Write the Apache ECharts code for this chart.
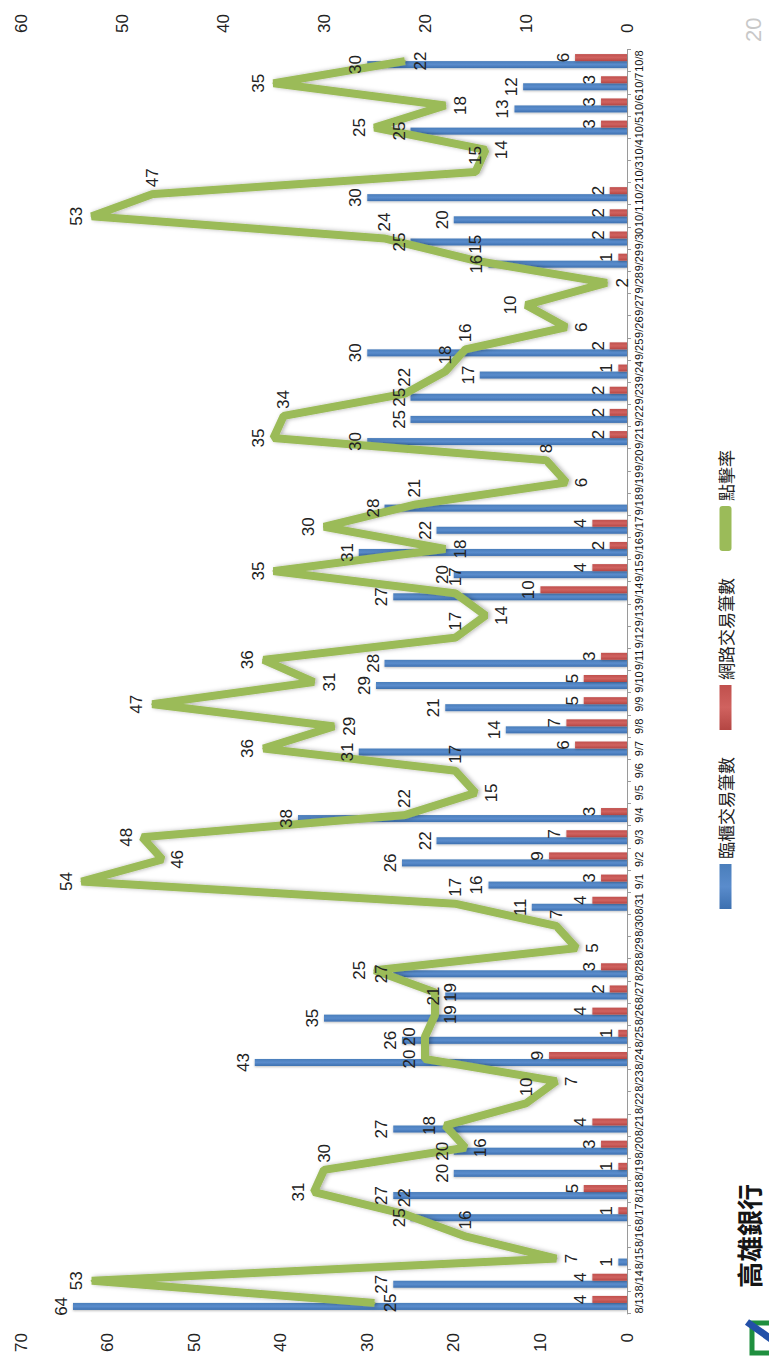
<!DOCTYPE html>
<html>
<head>
<meta charset="utf-8">
<script src="https://cdn.jsdelivr.net/npm/echarts/dist/echarts.min.js"></script>
<style>
html,body{margin:0;padding:0;width:769px;height:1358px;overflow:hidden;background:#fff;}
#chart{position:absolute;left:0;top:0;width:1358px;height:769px;transform-origin:0 0;transform:translateY(1358px) rotate(-90deg);}
</style>
</head>
<body>
<div id="chart"></div>
<script>
// ---- data ----
const categories = ['8/13','8/14','8/15','8/16','8/17','8/18','8/19','8/20','8/21','8/22','8/23','8/24','8/25','8/26','8/27','8/28','8/29','8/30','8/31',
  '9/1','9/2','9/3','9/4','9/5','9/6','9/7','9/8','9/9','9/10','9/11','9/12','9/13','9/14','9/15','9/16','9/17','9/18','9/19','9/20','9/21','9/22','9/23','9/24','9/25','9/26','9/27','9/28','9/29','9/30',
  '10/1','10/2','10/3','10/4','10/5','10/6','10/7','10/8'];

// 臨櫃交易筆數
const counterCounts = [64,27,1,null,25,27,20,20,27,null,null,43,26,35,21,27,null,null,11,
  16,26,22,38,null,null,31,14,21,29,28,null,null,27,20,31,22,28,null,null,30,25,25,17,30,null,null,null,16,25,
  20,30,null,null,25,13,12,30];

// 網路交易筆數
const onlineCounts = [4,4,null,null,1,5,1,3,4,null,null,9,1,4,2,3,null,null,4,
  3,9,7,3,null,null,6,7,5,5,3,null,null,10,4,2,4,null,null,null,2,2,2,1,2,null,null,null,1,2,
  2,2,null,null,3,3,3,6];

// 點擊率
const clickRates = [25,53,7,16,22,31,30,16,18,10,7,20,20,19,19,25,5,7,17,
  54,46,48,22,15,17,36,29,47,31,36,17,14,17,35,18,30,21,6,8,35,34,22,18,16,6,10,2,15,24,
  53,47,15,14,25,18,35,22];

const leftTicks = [0,10,20,30,40,50,60,70];
const rightTicks = [0,10,20,30,40,50,60];
const seriesNames = ['臨櫃交易筆數','網路交易筆數','點擊率'];

// ---- chart ----
const FONT = 'Liberation Sans, Arial, sans-serif';
const CJK = '"Noto Sans CJK TC", "Noto Sans CJK SC", sans-serif';

const lineData = clickRates.map((v, i) => {
  const p = clickRates[i - 1], n = clickRates[i + 1];
  const geP = p === undefined || v >= p, geN = n === undefined || v >= n;
  const leP = p === undefined || v <= p, leN = n === undefined || v <= n;
  let pos = 'right';
  if (geP && geN) pos = 'top';
  else if (leP && leN) pos = 'bottom';
  return { value: v, label: { position: pos } };
});

const chart = echarts.init(document.getElementById('chart'), null, { renderer: 'svg', width: 1358, height: 769 });

const valLabel = { show: true, position: 'top', distance: 3, fontSize: 17, color: '#222', fontFamily: FONT };
const catAxisBase = {
  type: 'category',
  data: categories,
  axisLine: { lineStyle: { color: '#9a9a9a', width: 1 } },
  axisTick: { show: true, length: 4, lineStyle: { color: '#9a9a9a' } },
  axisLabel: { interval: 0, fontSize: 11, margin: 6, color: '#111', fontFamily: FONT }
};

chart.setOption({
  animation: false,
  backgroundColor: '#fff',
  grid: { left: 44, right: 50, top: 21, bottom: 142, containLabel: false, outerBoundsMode: 'none' },
  legend: {
    left: 444, top: 712,
    itemWidth: 45, itemHeight: 12, itemGap: 27,
    textStyle: { fontSize: 17, color: '#222', fontFamily: CJK },
    data: [
      { name: seriesNames[0], icon: 'rect' },
      { name: seriesNames[1], icon: 'rect' },
      { name: seriesNames[2], icon: 'roundRect' }
    ]
  },
  xAxis: [
    catAxisBase,
    Object.assign({}, catAxisBase, { show: false })
  ],
  yAxis: [
    {
      type: 'value', position: 'left',
      min: leftTicks[0], max: leftTicks[leftTicks.length - 1], interval: leftTicks[1] - leftTicks[0],
      axisLine: { show: false }, axisTick: { show: false }, splitLine: { show: false },
      axisLabel: { fontSize: 17, margin: 19, color: '#222', fontFamily: FONT }
    },
    {
      type: 'value', position: 'right',
      min: rightTicks[0], max: rightTicks[rightTicks.length - 1], interval: rightTicks[1] - rightTicks[0],
      axisLine: { show: false }, axisTick: { show: false }, splitLine: { show: false },
      axisLabel: { fontSize: 17, margin: 17, color: '#222', fontFamily: FONT }
    }
  ],
  series: [
    {
      name: seriesNames[0], type: 'bar', xAxisIndex: 0, yAxisIndex: 0,
      data: counterCounts, barWidth: 7, barGap: '0%',
      itemStyle: {
        color: new echarts.graphic.LinearGradient(0, 0, 1, 0, [
          { offset: 0, color: '#3d70b0' }, { offset: 0.5, color: '#5a8ccc' }, { offset: 1, color: '#4a7ebb' }
        ]),
        shadowColor: 'rgba(0,0,0,0.25)', shadowBlur: 2, shadowOffsetX: -1
      }
    },
    {
      name: seriesNames[1], type: 'bar', xAxisIndex: 0, yAxisIndex: 0,
      data: onlineCounts, barWidth: 7,
      itemStyle: {
        color: new echarts.graphic.LinearGradient(0, 0, 1, 0, [
          { offset: 0, color: '#b44643' }, { offset: 0.5, color: '#d0625f' }, { offset: 1, color: '#c0504d' }
        ]),
        shadowColor: 'rgba(0,0,0,0.25)', shadowBlur: 2, shadowOffsetX: -1
      }
    },
    {
      name: seriesNames[2], type: 'line', xAxisIndex: 0, yAxisIndex: 1,
      data: lineData,
      symbol: 'circle', symbolSize: 2,
      itemStyle: { color: '#9bbb59' },
      lineStyle: { width: 8, color: '#9bbb59', shadowColor: 'rgba(0,0,0,0.3)', shadowBlur: 4, shadowOffsetY: 2 },
      label: { show: true, fontSize: 17, color: '#222', fontFamily: FONT, distance: 6 }
    },
    // value labels of the bars, drawn above the line
    {
      name: 'labels-counter', type: 'bar', xAxisIndex: 1, yAxisIndex: 0,
      data: counterCounts, barWidth: 7, barGap: '0%', z: 10, silent: true,
      itemStyle: { color: 'rgba(0,0,0,0)' }, label: valLabel
    },
    {
      name: 'labels-online', type: 'bar', xAxisIndex: 1, yAxisIndex: 0,
      data: onlineCounts, barWidth: 7, z: 10, silent: true,
      itemStyle: { color: 'rgba(0,0,0,0)' }, label: valLabel
    }
  ],
  graphic: [
    { type: 'text', left: 1316, top: 742, style: { text: '20', fontSize: 22, fill: '#c8c8c8', fontFamily: FONT } },
    { type: 'text', left: 70, top: 735, style: { text: '高雄銀行', fontSize: 26, lineHeight: 26, fontWeight: 'bold', fill: '#151515', fontFamily: CJK } },
    { type: 'rect', shape: { x: 5, y: 752, width: 30, height: 30 }, style: { fill: 'none', stroke: '#1f8f3f', lineWidth: 5 } },
    { type: 'line', shape: { x1: 14, y1: 778, x2: 36, y2: 747 }, style: { stroke: '#2350a8', lineWidth: 7 } }
  ]
});
</script>
</body>
</html>
